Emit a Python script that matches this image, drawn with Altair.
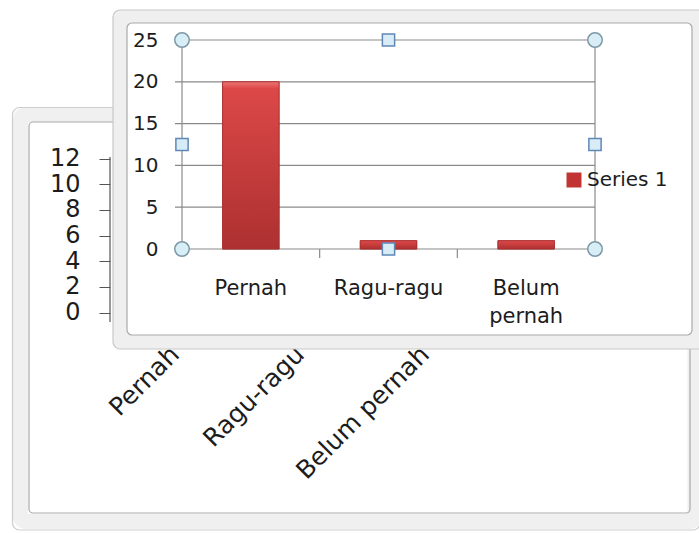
import altair as alt
import pandas as pd

# ---------------- data ----------------
categories = ["Pernah", "Ragu-ragu", "Belum pernah"]
values = [20, 1, 1]
series_name = "Series 1"
y_ticks = [0, 5, 10, 15, 20, 25]

back_categories = ["Pernah", "Ragu-ragu", "Belum pernah"]
back_y_ticks = [0, 2, 4, 6, 8, 10, 12]

# ---------------- layout constants ----------------
W, H = 699, 533
FONT = "DejaVu Sans"
TXT = "#1c1c1c"
LINE = "#8a8a8a"

# front plot area (pixels)
PX0, PX1 = 182, 595
PY0, PY1 = 249, 40
# back plot area (pixels)
BX0, BX1 = 112.5, 487.5
BY0, BY1 = 312.5, 158.5
BAXIS_X = 110

ONE = alt.Data(values=[{"k": 1}])

# ---------------- scales / axes ----------------
x_scale = alt.Scale(type="band", domain=categories, range=[PX0, PX1],
                    paddingInner=0, paddingOuter=0)
y_scale = alt.Scale(domain=[0, 25], range=[PY0, PY1], nice=False, zero=True)

x_axis = alt.Axis(orient="bottom", offset=PY0 - H, domain=False, ticks=False,
                  tickSize=0, grid=False, labelPadding=28, labelAngle=0,
                  labelAlign="center", labelBaseline="top",
                  labelFont=FONT, labelFontSize=21, labelColor=TXT,
                  labelExpr="split(datum.label, ' ')", labelLineHeight=28,
                  labelOverlap=False, title=None, zindex=1)
y_axis = alt.Axis(orient="left", offset=-PX0, domain=False, ticks=False,
                  tickSize=0, grid=False, labelPadding=24, values=y_ticks,
                  labelFont=FONT, labelFontSize=20, labelColor=TXT,
                  labelOverlap=False, title=None, zindex=1)

back_x_scale = alt.Scale(type="band", domain=back_categories, range=[BX0, BX1],
                         paddingInner=0, paddingOuter=0)
back_y_scale = alt.Scale(domain=[0, 12], range=[BY0, BY1], nice=False, zero=True)
back_x_axis = alt.Axis(orient="bottom", offset=340 - H, domain=False, ticks=False,
                       tickSize=0, grid=False, labelPadding=10, labelAngle=315,
                       labelAlign="right", labelBaseline="middle",
                       labelFont=FONT, labelFontSize=25, labelColor=TXT,
                       labelOverlap=False, title=None, zindex=0)
back_y_axis = alt.Axis(orient="left", offset=-BAXIS_X, domain=False, ticks=True,
                       tickSize=11, tickColor="#555555", grid=False,
                       labelPadding=19, values=back_y_ticks,
                       labelFont=FONT, labelFontSize=24, labelColor=TXT,
                       labelOverlap=False, title=None, zindex=0)

# ---------------- back chart (partly hidden) ----------------
def rect(x, x2, y, y2, **kw):
    return alt.Chart(ONE).mark_rect(**kw).encode(
        x=alt.value(x), x2=alt.value(x2), y=alt.value(y), y2=alt.value(y2))

back_bezel = rect(20.5, 695, 114.5, 521.5, fillOpacity=0, stroke="#f0f0f0",
                  strokeWidth=15, cornerRadius=5)
back_outer = rect(12.5, 700, 107.5, 530, fillOpacity=0, stroke="#cdcdcd",
                  strokeWidth=1.2, cornerRadius=7)
back_inner = rect(29, 690, 122, 513, fillOpacity=0, stroke="#a9a9a9",
                  strokeWidth=1.2, cornerRadius=4)

back_y_layer = alt.Chart(pd.DataFrame({"tick": back_y_ticks})).mark_rule(opacity=0).encode(
    y=alt.Y("tick:Q", scale=back_y_scale, axis=back_y_axis))
back_x_layer = alt.Chart(pd.DataFrame({"cat": back_categories})).mark_point(opacity=0).encode(
    x=alt.X("cat:N", scale=back_x_scale, axis=back_x_axis, sort=back_categories))
back_axis_line = alt.Chart(ONE).mark_rule(color="#555555", strokeWidth=1.2).encode(
    x=alt.value(BAXIS_X), y=alt.value(157), y2=alt.value(322))

# ---------------- front chart frame ----------------
front_outer = rect(113, 712, 10, 349, fill="#efefef", stroke="#c9c9c9",
                   strokeWidth=1.2, cornerRadius=7)
front_inner = rect(127, 692, 23, 335, fill="#ffffff", stroke="#a9a9a9",
                   strokeWidth=1.2, cornerRadius=5)

# ---------------- front chart ----------------
front_df = pd.DataFrame({"cat": categories, "val": values,
                         "series": [series_name] * len(categories)})

grid = alt.Chart(pd.DataFrame({"tick": y_ticks})).mark_rule(
    color=LINE, strokeWidth=1.2).encode(
    y=alt.Y("tick:Q", scale=y_scale, axis=y_axis),
    x=alt.value(PX0 - 7), x2=alt.value(PX1))

bars = alt.Chart(front_df).mark_bar(
    width=alt.RelativeBandSize(0.41), stroke="#a83030", strokeWidth=0.8).encode(
    x=alt.X("cat:N", scale=x_scale, axis=x_axis, sort=categories),
    y=alt.Y("val:Q", scale=y_scale, axis=y_axis),
    color=alt.Color("series:N",
                    scale=alt.Scale(domain=[series_name], range=["#c23434"]),
                    legend=alt.Legend(orient="none", legendX=564, legendY=170,
                                      title=None, symbolType="square",
                                      symbolSize=225, symbolStrokeWidth=0,
                                      labelFont=FONT, labelFontSize=20,
                                      labelColor=TXT, labelOffset=3, padding=0)))

bars_grad = alt.Chart(front_df).mark_bar(
    width=alt.RelativeBandSize(0.41), stroke="#a83030", strokeWidth=0.8,
    color=alt.Gradient(gradient="linear", x1=0, x2=0, y1=0, y2=1,
                       stops=[alt.GradientStop(offset=0, color="#ee7676"),
                              alt.GradientStop(offset=0.04, color="#dc4848"),
                              alt.GradientStop(offset=1, color="#ad3030")])).encode(
    x=alt.X("cat:N", scale=x_scale, axis=x_axis, sort=categories),
    y=alt.Y("val:Q", scale=y_scale, axis=y_axis))

tick_rules = alt.Chart(pd.DataFrame({"cat": categories[1:]})).mark_rule(
    color=LINE, strokeWidth=1.2).encode(
    x=alt.X("cat:N", scale=x_scale, axis=x_axis, bandPosition=0),
    y=alt.value(PY0), y2=alt.value(PY0 + 9))

front = alt.layer(grid, bars, bars_grad, tick_rules)

left_line = alt.Chart(ONE).mark_rule(color=LINE, strokeWidth=1.2).encode(
    x=alt.value(PX0), y=alt.value(PY1), y2=alt.value(PY0))
right_line = alt.Chart(ONE).mark_rule(color=LINE, strokeWidth=1.2).encode(
    x=alt.value(PX1), y=alt.value(PY1), y2=alt.value(PY0))

# ---------------- selection handles ----------------
corner_df = pd.DataFrame({"px": [PX0, PX1, PX0, PX1], "py": [PY1, PY1, PY0, PY0]})
mx, my = (PX0 + PX1) / 2, (PY0 + PY1) / 2
mid_df = pd.DataFrame({"px": [mx, mx, PX0, PX1], "py": [PY1, PY0, my, my]})

circles = alt.Chart(corner_df).mark_point(
    shape="circle", filled=True, size=210, fill="#d8eef6", stroke="#7e98a6",
    strokeWidth=1.5, opacity=1).encode(
    x=alt.X("px:Q", scale=None), y=alt.Y("py:Q", scale=None))
squares = alt.Chart(mid_df).mark_point(
    shape="square", filled=True, size=150, fill="#d8ecf8", stroke="#5f88b6",
    strokeWidth=1.5, opacity=1).encode(
    x=alt.X("px:Q", scale=None), y=alt.Y("py:Q", scale=None))

chart = alt.layer(
    back_bezel, back_outer, back_inner,
    back_y_layer, back_x_layer, back_axis_line,
    front_outer, front_inner,
    front,
    left_line, right_line,
    circles, squares,
).resolve_scale(
    x="independent", y="independent"
).properties(
    width=W, height=H, padding=0,
    autosize=alt.AutoSizeParams(type="none"),
    background="#ffffff",
).configure_view(stroke=None)

chart.save("out.html", embed_options={"renderer": "svg", "actions": False})
